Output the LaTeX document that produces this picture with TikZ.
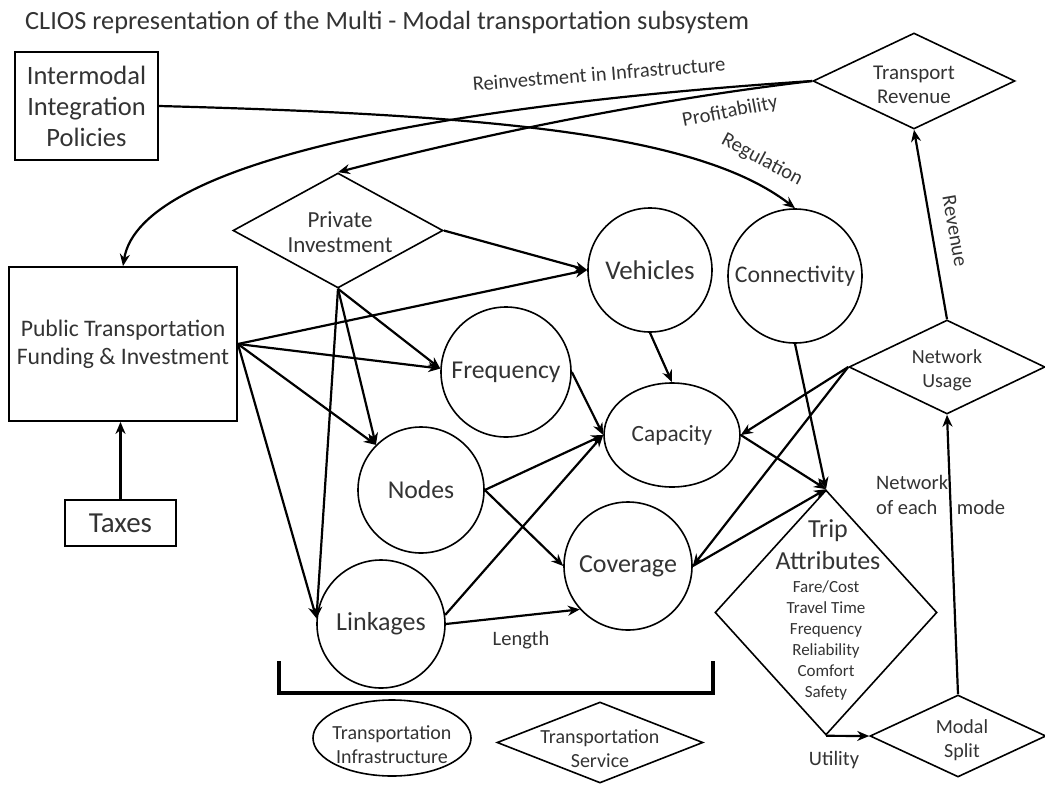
\documentclass[tikz,border=0pt]{standalone}
\usepackage{fontspec}
\setmainfont{Carlito}
\usetikzlibrary{shapes.geometric,arrows.meta}
\newcommand{\fs}[2]{\fontsize{#1}{#2}\selectfont}
\begin{document}
\begin{tikzpicture}[x=1pt,y=-1pt,
  box/.style={draw, line width=1.8pt, inner sep=0pt, align=center, text=black!80},
  circ/.style={draw, circle, line width=1.6pt, inner sep=0pt, text=black!80},
  ell/.style={draw, ellipse, line width=1.6pt, inner sep=0pt, text=black!80},
  dia/.style={draw, diamond, line width=1.6pt, inner sep=0pt},
  txt/.style={inner sep=0pt, align=center, text=black!80},
  arr/.style={line width=2.2pt, -{Stealth[length=12pt,width=10pt]}},
  lbl/.style={inner sep=0pt, text=black!80, font=\fs{20.5}{25}},
]
\useasboundingbox (0,0) rectangle (1045,785);

% title
\node[anchor=base west, inner sep=0pt, text=black!80, font=\fs{26.3}{30}] (title) at (25,29)
  {CLIOS representation of the Multi - Modal transportation subsystem};

% boxes
\node[box, minimum width=143pt, minimum height=108pt, font=\fs{26.5}{31}] (imp) at (86.5,106)
  {Intermodal\\Integration\\Policies};
\node[box, minimum width=228pt, minimum height=154pt, font=\fs{23.7}{28}] (pub) at (123,344)
  {Public Transportation\\Funding \& Investment};
\node[box, minimum width=111pt, minimum height=46pt, font=\fs{29}{32}] (tax) at (120.5,523) {Taxes};

% diamonds
\node[dia, minimum width=202pt, minimum height=96pt] (rev) at (914,81) {};
\node[txt, font=\fs{21}{24}] (revt) at (914,85) {Transport\\Revenue};
\node[dia, minimum width=210pt, minimum height=115pt] (priv) at (338,230.5) {};
\node[txt, font=\fs{23}{25}] (privt) at (340,232) {Private\\Investment};
\node[dia, minimum width=196pt, minimum height=94pt] (net) at (947,367) {};
\node[txt, font=\fs{20}{24}] (nett) at (947,370) {Network\\Usage};
\node[dia, minimum width=176pt, minimum height=82pt] (modal) at (958,736) {};
\node[txt, font=\fs{20}{24}] (modalt) at (962,740) {Modal\\Split};
\node[dia, minimum width=222pt, minimum height=245pt] (trip) at (826,612.5) {};
\node[txt, font=\fs{26}{32}] (tript) at (828,545) {Trip\\Attributes};
\node[txt, font=\fs{17}{21}] (tripl) at (826,640) {Fare/Cost\\Travel Time\\Frequency\\Reliability\\Comfort\\Safety};

% circles
\node[circ, minimum size=124pt, font=\fs{27}{30}] (veh) at (650,270) {Vehicles};
\node[circ, minimum size=134pt, font=\fs{23.8}{28}] (conn) at (795,276) {Connectivity};
\node[circ, minimum size=130pt, font=\fs{25.7}{30}] (freq) at (506,372) {Frequency};
\node[ell, minimum width=136pt, minimum height=104pt, font=\fs{23.3}{28}] (cap) at (672,435) {Capacity};
\node[circ, minimum size=126pt, font=\fs{25.7}{30}] (nodes) at (421,490) {Nodes};
\node[circ, minimum size=128pt, font=\fs{26}{30}] (cov) at (628,566) {Coverage};
\node[circ, minimum size=128pt, font=\fs{26}{30}] (link) at (381,624) {Linkages};

% legend
\draw[line width=3.5pt] (279,661) -- (279,693) -- (713,693) -- (713,661);
\node[ell, minimum width=158pt, minimum height=76pt] (infra) at (392,738) {};
\node[txt, font=\fs{20}{24}] (infrat) at (392,745) {Transportation\\Infrastructure};
\node[dia, minimum width=206pt, minimum height=81pt] (serv) at (600,742.5) {};
\node[txt, font=\fs{20}{24}] (servt) at (600,749) {Transportation\\Service};

% feedback loops
\draw[arr] (imp.east) .. controls (500,115) and (700,135) .. (conn.north);
\draw[arr] (rev.west) .. controls (450,105) and (140,160) .. (pub.north);
\draw[arr] (rev.west) .. controls (650,100) and (480,135) .. (priv.north);
\draw[arr] (net.north) -- (rev.south);
\draw[arr] (modal.north) -- (net.south);
\draw[arr] (trip.south) -- (modal.west);
\draw[arr] (tax.north) -- (tax.north |- pub.south);

% investment links
\draw[arr] (pub.east) -- (veh.west);
\draw[arr] (pub.east) -- (freq.177);
\draw[arr] (pub.east) -- (nodes.135);
\draw[arr] (pub.east) -- (link.175);
\draw[arr] (priv.east) -- (veh.west);
\draw[arr] (priv.south) -- (freq.177);
\draw[arr] (priv.south) -- (nodes.135);
\draw[arr] (priv.south) -- (link.175);

% service links
\draw[arr] (veh.south) -- (cap.north);
\draw[arr] (freq.east) -- (cap.west);
\draw[arr] (nodes.east) -- (cap.west);
\draw[arr] (nodes.east) -- (cov.west);
\draw[arr] (link.8) -- (cap.west);
\draw[arr] (link.east) -- (cov.222);
\draw[arr] (cap.east) -- (trip.north);
\draw[arr] (conn.south) -- (trip.north);
\draw[arr] (cov.east) -- (trip.north);
\draw[arr] (net.west) -- (cap.east);
\draw[arr] (net.west) -- (cov.east);

% connector labels
\node[lbl, rotate=4.5] (lreinv) at (599,74) {Reinvestment in Infrastructure};
\node[lbl, rotate=11] (lprof) at (730,112) {Profitability};
\node[lbl, rotate=-28] (lreg) at (762,160) {Regulation};
\node[lbl, rotate=-80] (lrevn) at (955,231) {Revenue};
\node[lbl, anchor=west, align=left] (lnet) at (876,495) {Network\\of each};
\node[lbl] (lmode) at (981,507) {mode};
\node[lbl] (lutil) at (834,760) {Utility};
\node[lbl] (llen) at (521,640) {Length};
\end{tikzpicture}
\end{document}
